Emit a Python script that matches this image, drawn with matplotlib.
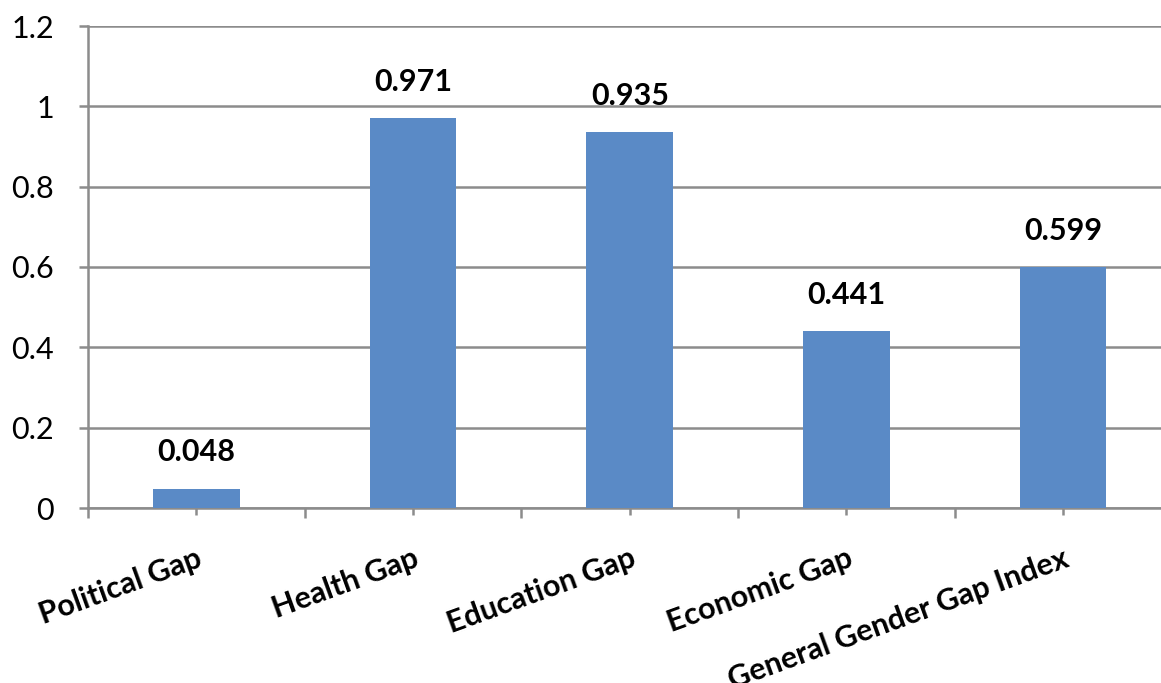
import matplotlib
matplotlib.use("Agg")
import matplotlib.pyplot as plt
import numpy as np

categories = ["Political Gap", "Health Gap", "Education Gap", "Economic Gap",
              "General Gender Gap Index"]
values = [0.048, 0.971, 0.935, 0.441, 0.599]
value_labels = ["0.048", "0.971", "0.935", "0.441", "0.599"]
y_ticks = [0, 0.2, 0.4, 0.6, 0.8, 1.0, 1.2]
y_tick_labels = ["0", "0.2", "0.4", "0.6", "0.8", "1", "1.2"]

bar_blue = "#5A8AC6"
grid_grey = "#8C8C8C"

plt.rcParams["font.family"] = ["Lato", "DejaVu Sans"]

W, H = 1161, 683
fig = plt.figure(figsize=(W / 100, H / 100), dpi=100)
# the plot area runs a little past the right edge of the figure
ax = fig.add_axes([88 / W, (H - 508) / H, (1171.5 - 88) / W, (508 - 26) / H])

x = np.arange(len(categories))
ax.bar(x, values, width=0.4, color=bar_blue, zorder=3)

for xi, v, lab in zip(x, values, value_labels):
    ax.annotate(lab, (xi, v), xytext=(0, 16), textcoords="offset points",
                ha="center", va="bottom", fontsize=22, fontweight="bold",
                color="black", zorder=4)

ax.set_xlim(-0.5, len(categories) - 0.5)
ax.set_ylim(0, 1.2)
ax.set_yticks(y_ticks)
ax.set_yticklabels(y_tick_labels, fontsize=22)
ax.yaxis.grid(True, color=grid_grey, linewidth=1.8, zorder=1)
ax.set_axisbelow(True)

# category boundaries get outward ticks, category centres get crossing ticks
ax.set_xticks(np.arange(-0.5, len(categories), 1.0))
ax.set_xticklabels([])
ax.set_xticks(x, minor=True)
ax.set_xticklabels(categories, minor=True, rotation=20, ha="right",
                   va="top", rotation_mode="anchor", fontsize=22,
                   fontweight="bold")
ax.tick_params(axis="x", which="major", direction="out", length=7,
               width=1.8, color=grid_grey)
ax.tick_params(axis="x", which="minor", direction="inout", length=10,
               width=1.8, color=grid_grey, pad=21)
ax.tick_params(axis="y", direction="out", length=6.5, width=1.8,
               color=grid_grey, pad=18)

for side in ["top", "right"]:
    ax.spines[side].set_visible(False)
for side in ["left", "bottom"]:
    ax.spines[side].set_color(grid_grey)
    ax.spines[side].set_linewidth(1.8)

fig.savefig("out.png", dpi=100)
